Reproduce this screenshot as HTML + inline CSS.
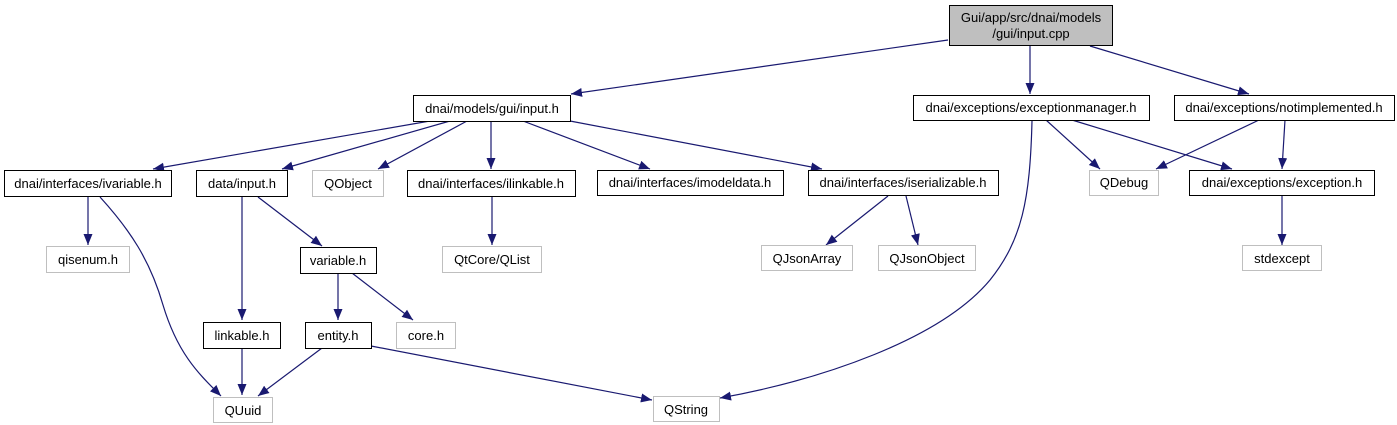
<!DOCTYPE html>
<html><head><meta charset="utf-8"><style>
html,body{margin:0;padding:0;background:#fff;width:1397px;height:425px;overflow:hidden}
svg text{font-family:"Liberation Sans",sans-serif;font-size:13px;fill:#000}
</style></head><body>
<svg width="1397" height="425" viewBox="0 0 1397 425" xmlns="http://www.w3.org/2000/svg">
<defs><marker id="a" markerUnits="userSpaceOnUse" markerWidth="12" markerHeight="10" refX="11" refY="5" orient="auto"><path d="M0,0.5 L11,5 L0,9.5 Z" fill="#191970"/></marker></defs>
<g fill="none" stroke="#191970" stroke-width="1.2" marker-end="url(#a)">
<path d="M948,40 L571,94"/>
<path d="M1030,46 L1030,94"/>
<path d="M1090,46 L1249,94"/>
<path d="M430,121 L153,169"/>
<path d="M450,121 L282,169"/>
<path d="M467,121 L378,169"/>
<path d="M491,121 L491,169"/>
<path d="M523,121 L650,169"/>
<path d="M570,121 L822,169"/>
<path d="M1046,120 L1100,169"/>
<path d="M1072,120 L1232,169"/>
<path d="M1032,121 C1030,200 1022,240 990,280 C940,340 820,380 720,398"/>
<path d="M1259,120 L1156,169"/>
<path d="M1285,120 L1282,169"/>
<path d="M1282,196 L1282,245"/>
<path d="M88,197 L88,245"/>
<path d="M100,197 C130,230 150,260 163,305 C178,355 200,375 221,396"/>
<path d="M888,196 L826,245"/>
<path d="M906,196 L918,245"/>
<path d="M492,197 L492,245"/>
<path d="M242,197 L242,320"/>
<path d="M258,197 L322,246"/>
<path d="M338,273 L338,320"/>
<path d="M352,273 L413,320"/>
<path d="M242,348 L242,395"/>
<path d="M322,348 L258,396"/>
<path d="M371,346 L652,400"/>
</g>
<g stroke-width="1">
<rect x="949.5" y="5.5" width="163" height="40" fill="#bfbfbf" stroke="#000"/>
<g fill="#fff" stroke="#000">
<rect x="413.5" y="95.5" width="157" height="26"/>
<rect x="913.5" y="95.5" width="236" height="25"/>
<rect x="1174.5" y="95.5" width="220" height="25"/>
<rect x="4.5" y="170.5" width="167" height="26"/>
<rect x="196.5" y="170.5" width="91" height="26"/>
<rect x="407.5" y="170.5" width="168" height="26"/>
<rect x="597.5" y="170.5" width="186" height="25"/>
<rect x="808.5" y="170.5" width="190" height="25"/>
<rect x="1189.5" y="170.5" width="185" height="25"/>
<rect x="300.5" y="247.5" width="76" height="26"/>
<rect x="203.5" y="322.5" width="77" height="26"/>
<rect x="305.5" y="322.5" width="66" height="26"/>
</g>
<g fill="#fff" stroke="#bfbfbf">
<rect x="312.5" y="170.5" width="71" height="26"/>
<rect x="1089.5" y="170.5" width="69" height="25"/>
<rect x="46.5" y="246.5" width="83" height="26"/>
<rect x="442.5" y="246.5" width="99" height="26"/>
<rect x="761.5" y="245.5" width="91" height="25"/>
<rect x="878.5" y="245.5" width="97" height="25"/>
<rect x="1242.5" y="245.5" width="79" height="25"/>
<rect x="396.5" y="322.5" width="59" height="26"/>
<rect x="213.5" y="397.5" width="59" height="25"/>
<rect x="653.5" y="396.5" width="66" height="25"/>
</g>
</g>
<g text-anchor="middle">
<text x="1031" y="22">Gui/app/src/dnai/models</text>
<text x="1031" y="38">/gui/input.cpp</text>
<text x="492" y="113">dnai/models/gui/input.h</text>
<text x="1031" y="112">dnai/exceptions/exceptionmanager.h</text>
<text x="1284" y="112">dnai/exceptions/notimplemented.h</text>
<text x="88" y="188">dnai/interfaces/ivariable.h</text>
<text x="242" y="188">data/input.h</text>
<text x="348" y="188">QObject</text>
<text x="491" y="188">dnai/interfaces/ilinkable.h</text>
<text x="690" y="187">dnai/interfaces/imodeldata.h</text>
<text x="903" y="187">dnai/interfaces/iserializable.h</text>
<text x="1124" y="187">QDebug</text>
<text x="1282" y="187">dnai/exceptions/exception.h</text>
<text x="338" y="265">variable.h</text>
<text x="88" y="264">qisenum.h</text>
<text x="492" y="264">QtCore/QList</text>
<text x="807" y="263">QJsonArray</text>
<text x="927" y="263">QJsonObject</text>
<text x="1282" y="263">stdexcept</text>
<text x="242" y="340">linkable.h</text>
<text x="338" y="340">entity.h</text>
<text x="426" y="340">core.h</text>
<text x="243" y="415">QUuid</text>
<text x="686" y="414">QString</text>
</g>
</svg>
</body></html>
